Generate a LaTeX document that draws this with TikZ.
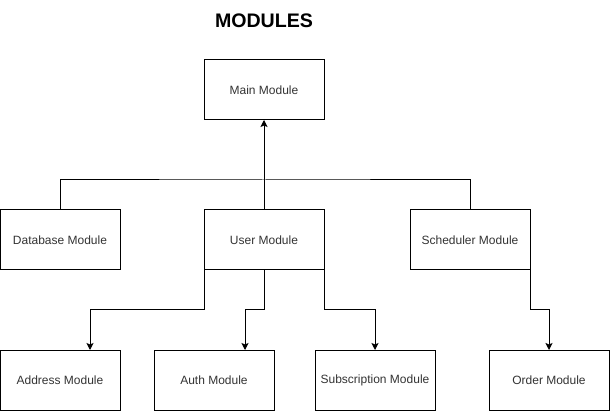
\documentclass[tikz,border=0pt]{standalone}
\usepackage{fontspec}
\setmainfont{Liberation Sans}
\usetikzlibrary{arrows.meta}

\begin{document}
\begin{tikzpicture}[x=1pt, y=-1pt,
    module/.style={draw, line width=1pt, minimum width=120pt, minimum height=60pt,
        inner sep=0pt, outer sep=0pt, text=black!80, font=\fontsize{12}{14}\selectfont},
    link/.style={line width=1pt},
    arr/.style={link, -{Stealth[length=7pt, width=7pt, inset=1.5pt]}}]

% --- Row heights ---
\def\midRow{240}
\def\lowRow{380}

\useasboundingbox (0,0) rectangle (610,411);

% --- Title and top module ---
\node[font=\bfseries\fontsize{19.6}{22}\selectfont] (title) at (264,21) {MODULES};
\node[module] (main) at (264,90) {Main Module};

% --- Middle row ---
\foreach \name/\x/\txt in {db/60/Database Module, user/264/User Module, sched/470/Scheduler Module} {
    \node[module] (\name) at (\x,\midRow) {\txt};
}

% --- Bottom row ---
\foreach \name/\x/\txt in {addr/60/Address Module, auth/214/Auth Module,
                           subs/375/Subscription Module, order/549/Order Module} {
    \node[module] (\name) at (\x,\lowRow) {\txt};
}

% --- Connectors ---
\coordinate (bus) at (264,180);
\draw[link] (db.north) |- (bus) -| (sched.north);
\draw[arr] (user.north) -- (main.south);

\draw[arr] (user.south west) -- ++(0,40) -| ([xshift=30]addr.north);
\draw[arr] (user.south) -- ++(0,40) -| ([xshift=31]auth.north);
\draw[arr] (user.south east) -- ++(0,40) -| (subs.north);
\draw[arr] (sched.south east) -- ++(0,40) -| (order.north);

\end{tikzpicture}
\end{document}
